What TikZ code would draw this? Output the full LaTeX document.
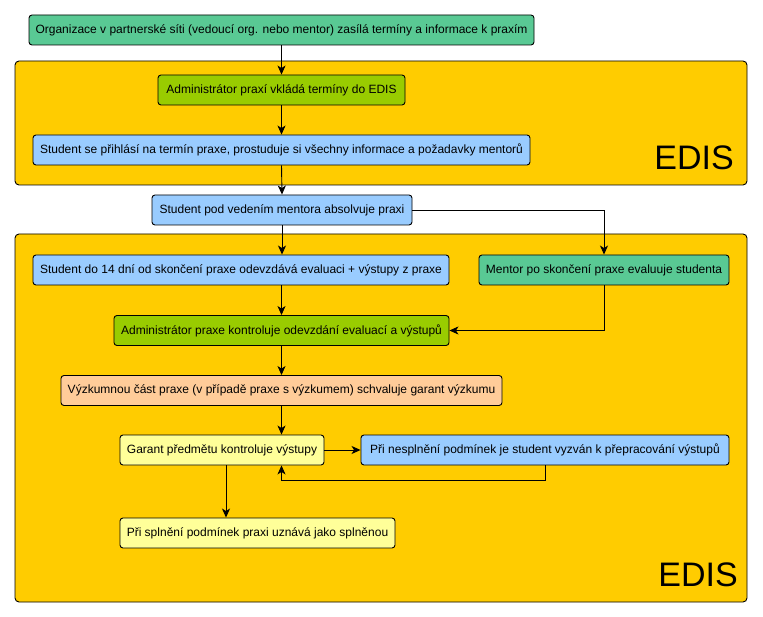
\documentclass[tikz,border=0pt]{standalone}
\usepackage{fontspec}
\setmainfont{Liberation Sans}
\usetikzlibrary{arrows.meta}
\definecolor{cgreen}{HTML}{59C994}
\definecolor{clime}{HTML}{99CC00}
\definecolor{cblue}{HTML}{99CCFF}
\definecolor{corange}{HTML}{FFCC00}
\definecolor{cpeach}{HTML}{FFCC99}
\definecolor{cyellow}{HTML}{FFFF99}
\tikzset{
  box/.style={draw=black, line width=0.9pt, rounded corners=3pt, inner sep=0pt, minimum height=30pt, font=\fontsize{12}{14}\selectfont, align=center},
  container/.style={draw=black, line width=0.9pt, rounded corners=4pt, fill=corange},
  edislabel/.style={font=\fontsize{34}{40}\selectfont, inner sep=0pt},
  arr/.style={draw=black, line width=0.9pt, -{Stealth[length=9pt,width=8pt,inset=2.5pt]}},
}
\begin{document}
\begin{tikzpicture}[x=1pt,y=-1pt]
\useasboundingbox[fill=white] (0,0) rectangle (763,617);
% containers
\draw[container] (15,61) rectangle (747,185);
\draw[container] (15,234) rectangle (747,602);
\node[edislabel, anchor=base east] (edisA) at (734,170) {EDIS};
\node[edislabel, anchor=base east] (edisB) at (738,586) {EDIS};
% nodes
\node[box, fill=cgreen, minimum width=505pt] (top) at (281.5,30) {Organizace v partnerské síti (vedoucí org. nebo mentor) zasílá termíny a informace k praxím};
\node[box, fill=clime, minimum width=247pt] (adm1) at (281.5,90) {Administrátor praxí vkládá termíny do EDIS};
\node[box, fill=cblue, minimum width=497pt] (stud1) at (281.5,150) {Student se přihlásí na termín praxe, prostuduje si všechny informace a požadavky mentorů};
\node[box, fill=cblue, minimum width=260pt] (stud2) at (282,210) {Student pod vedením mentora absolvuje praxi};
\node[box, fill=cblue, minimum width=416pt] (stud3) at (241,270) {Student do 14 dní od skončení praxe odevzdává evaluaci + výstupy z praxe};
\node[box, fill=cgreen, minimum width=250pt] (mentor) at (604,270) {Mentor po skončení praxe evaluuje studenta};
\node[box, fill=clime, minimum width=335pt] (adm2) at (281.5,330.5) {Administrátor praxe kontroluje odevzdání evaluací a výstupů};
\node[box, fill=cpeach, minimum width=441pt] (vyz) at (281.5,390.5) {Výzkumnou část praxe (v případě praxe s výzkumem) schvaluje garant výzkumu};
\node[box, fill=cyellow, minimum width=204pt] (garant) at (222,450) {Garant předmětu kontroluje výstupy};
\node[box, fill=cblue, minimum width=368pt] (nespl) at (545,450) {Při nesplnění podmínek je student vyzván k přepracování výstupů};
\node[box, fill=cyellow, minimum width=275pt] (spl) at (257.5,533) {Při splnění podmínek praxi uznává jako splněnou};
% arrows
\draw[arr] (top.south) -- (adm1.north);
\draw[arr] (adm1.south) -- (stud1.north);
\draw[arr] (stud1.south) -- (stud2.north);
\draw[arr] (stud2.south) -- (stud2.south |- stud3.north);
\draw[arr] (stud2.east) -| (mentor.north);
\draw[arr] (stud3.south -| adm2.north) -- (adm2.north);
\draw[arr] (mentor.south) |- (adm2.east);
\draw[arr] (adm2.south) -- (vyz.north);
\draw[arr] (vyz.south) -- (vyz.south |- garant.north);
\draw[arr] (garant.east) -- (nespl.west);
\draw[arr] (nespl.south) -- ++(0,15) -| (vyz.south |- garant.south);
\draw[arr] ([xshift=4pt]garant.south) -- ([xshift=4pt]garant.south |- spl.north);
\end{tikzpicture}
\end{document}
